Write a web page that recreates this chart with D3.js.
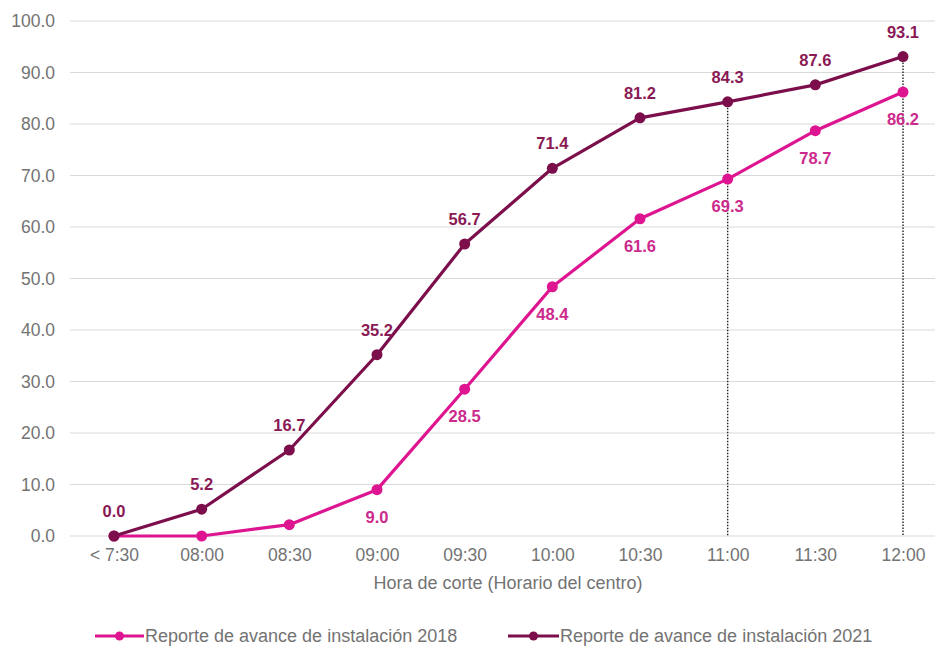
<!DOCTYPE html>
<html>
<head>
<meta charset="utf-8">
<script src="https://cdn.jsdelivr.net/npm/d3@7"></script>
<style>
  html, body { margin: 0; padding: 0; background: #fff; }
  svg { display: block; font-family: "Liberation Sans", Arial, sans-serif; }
</style>
</head>
<body>
<svg id="chart" width="935" height="650"></svg>
<script>
const categories = ["< 7:30", "08:00", "08:30", "09:00", "09:30", "10:00", "10:30", "11:00", "11:30", "12:00"];
const values2018 = [0.0, 0.0, 2.2, 9.0, 28.5, 48.4, 61.6, 69.3, 78.7, 86.2];
const values2021 = [0.0, 5.2, 16.7, 35.2, 56.7, 71.4, 81.2, 84.3, 87.6, 93.1];
const labeled2018 = [false, false, false, true, true, true, true, true, true, true];
const labeled2021 = [true, true, true, true, true, true, true, true, true, true];
const yTicks = [0, 10, 20, 30, 40, 50, 60, 70, 80, 90, 100];
const dropLineCategories = ["11:00", "12:00"];
const seriesNames = ["Reporte de avance de instalación 2018", "Reporte de avance de instalación 2021"];
const xTitle = "Hora de corte (Horario del centro)";

(function () {
const colors = { s2018: "#DE1590", s2021: "#7B0E4B", lab2018: "#CC2A8C", lab2021: "#8A1A55", axis: "#737373", grid: "#D9D9D9" };
const tickFont = 17.5, textFont = 18, labelFont = 16.5;

const svg = d3.select("#chart");
const mLeft = 70, mRight = 935, mTop = 21, mBottom = 536;

const x = d3.scalePoint().domain(categories).range([114, 903]);
const y = d3.scaleLinear().domain([0, 100]).range([mBottom, mTop]);

svg.append("g").selectAll("line").data(yTicks).join("line")
  .attr("x1", mLeft).attr("x2", mRight)
  .attr("y1", d => y(d)).attr("y2", d => y(d))
  .attr("stroke", colors.grid).attr("stroke-width", 1.2);

const yAxis = d3.axisLeft(y).tickValues(yTicks).tickFormat(d3.format(".1f")).tickSize(0).tickPadding(0);
const yg = svg.append("g").attr("transform", `translate(55,0)`).call(yAxis);
yg.select(".domain").remove();
yg.selectAll("text").attr("fill", colors.axis).attr("font-size", tickFont).attr("font-family", "Liberation Sans, Arial, sans-serif");

const xAxis = d3.axisBottom(x).tickSize(0).tickPadding(0);
const xg = svg.append("g").attr("transform", `translate(0,${mBottom + 13})`).call(xAxis);
xg.select(".domain").remove();
xg.selectAll("text").attr("fill", colors.axis).attr("font-size", tickFont).attr("font-family", "Liberation Sans, Arial, sans-serif");

svg.append("text").attr("x", 508).attr("y", 589).attr("text-anchor", "middle")
  .attr("fill", colors.axis).attr("font-size", textFont).text(xTitle);

svg.append("g").selectAll("line").data(dropLineCategories).join("line")
  .attr("x1", d => x(d)).attr("x2", d => x(d))
  .attr("y1", d => y(values2021[categories.indexOf(d)])).attr("y2", mBottom)
  .attr("stroke", "#222").attr("stroke-width", 1.4).attr("stroke-dasharray", "1.5,1.5");

const line = d3.line().x((d, i) => x(categories[i])).y(d => y(d));

function drawSeries(vals, color) {
  svg.append("path").datum(vals).attr("d", line)
    .attr("fill", "none").attr("stroke", color).attr("stroke-width", 3.2).attr("stroke-linejoin", "round");
  svg.append("g").selectAll("circle").data(vals).join("circle")
    .attr("cx", (d, i) => x(categories[i])).attr("cy", d => y(d)).attr("r", 5.5).attr("fill", color);
}
drawSeries(values2018, colors.s2018);
drawSeries(values2021, colors.s2021);

svg.append("g").selectAll("text").data(values2018.map((v, i) => ({ v, i })).filter(d => labeled2018[d.i])).join("text")
  .attr("x", d => x(categories[d.i])).attr("y", d => y(d.v) + 33)
  .attr("text-anchor", "middle").attr("font-weight", "bold").attr("font-size", labelFont)
  .attr("fill", colors.lab2018).text(d => d3.format(".1f")(d.v));
svg.append("g").selectAll("text").data(values2021.map((v, i) => ({ v, i })).filter(d => labeled2021[d.i])).join("text")
  .attr("x", d => x(categories[d.i])).attr("y", d => y(d.v) - 19)
  .attr("text-anchor", "middle").attr("font-weight", "bold").attr("font-size", labelFont)
  .attr("fill", colors.lab2021).text(d => d3.format(".1f")(d.v));

const legend = [
  { name: seriesNames[0], color: colors.s2018, x0: 95, x1: 144 },
  { name: seriesNames[1], color: colors.s2021, x0: 508, x1: 559 }
];
const lg = svg.append("g");
legend.forEach(l => {
  lg.append("line").attr("x1", l.x0).attr("x2", l.x1).attr("y1", 636).attr("y2", 636)
    .attr("stroke", l.color).attr("stroke-width", 3.2);
  lg.append("circle").attr("cx", (l.x0 + l.x1) / 2).attr("cy", 636).attr("r", 4.5).attr("fill", l.color);
  lg.append("text").attr("x", l.x1 + 1).attr("y", 642).attr("fill", colors.axis).attr("font-size", textFont).text(l.name);
});
})();
</script>
</body>
</html>
